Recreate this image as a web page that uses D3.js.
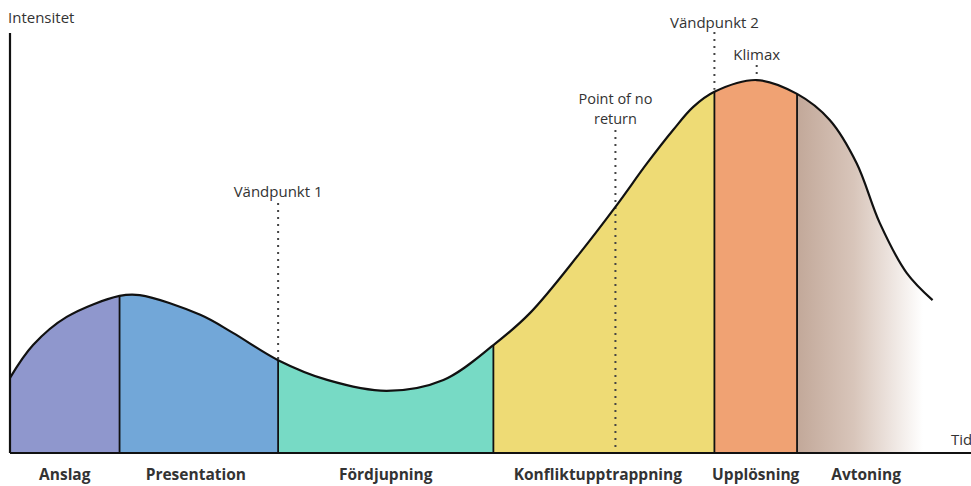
<!DOCTYPE html>
<html>
<head>
<meta charset="utf-8">
<script src="https://cdn.jsdelivr.net/npm/d3@7"></script>
<style>
  body { margin: 0; background: #fff; }
  text { font-family: "Open Sans", "Noto Sans", sans-serif; fill: #333; }
  .phase { font-weight: bold; font-size: 15.5px; }
  .note { font-size: 15px; }
  .note.multi { font-size: 14.5px; }
</style>
</head>
<body>
<div id="chart"></div>
<script>
// curve of intensity over time (time 0..100, intensity 0..100)
var curveTime      = [0, 2.4, 5.9, 11.4, 13.5, 19.8, 23.2, 27.9, 33.0, 39.2, 45.1, 50.3, 54.1, 59.3, 63.0, 66.3, 69.0, 71.1, 73.3, 77.7, 81.9, 85.3, 88.1, 90.5, 93.3, 96.0];
var curveIntensity = [17.9, 25.7, 32.4, 37.4, 37.6, 32.9, 28.6, 22.1, 17.4, 14.8, 17.4, 25.7, 33.3, 47.6, 58.6, 69.0, 76.9, 82.4, 86.0, 88.8, 85.5, 79.3, 69.0, 54.8, 42.9, 36.4];

var phaseNames = ["Anslag", "Presentation", "Fördjupning", "Konfliktupptrappning", "Upplösning", "Avtoning"];
var phaseStart = [0, 11.4, 27.9, 50.3, 73.3, 81.9];
var phaseEnd   = [11.4, 27.9, 50.3, 73.3, 81.9, 96.0];
var phaseColors = ["#8f97cd", "#72a7d8", "#77dac5", "#eedb75", "#f0a273", "url(#fade)"];

var noteLabels = [["Vändpunkt 1"], ["Point of no", "return"], ["Vändpunkt 2"], ["Klimax"]];
var noteTime   = [27.9, 63.0, 73.3, 77.7];

var width = 971, height = 486;
var margin = {top: 33, right: 0, bottom: 33, left: 10};

var svg = d3.select("#chart").append("svg")
    .attr("width", width)
    .attr("height", height);

var x = d3.scaleLinear().domain([0, 100]).range([margin.left, width - margin.right]);
var y = d3.scaleLinear().domain([0, 100]).range([height - margin.bottom, margin.top]);

var pts = curveTime.map(function(t, i) { return [t, curveIntensity[i]]; });
var intensityAt = function(t) { return curveIntensity[curveTime.indexOf(t)]; };

var defs = svg.append("defs");
var grad = defs.append("linearGradient")
    .attr("id", "fade")
    .attr("gradientUnits", "userSpaceOnUse")
    .attr("x1", x(81.9)).attr("x2", x(95.0))
    .attr("y1", 0).attr("y2", 0);
grad.append("stop").attr("offset", "0%").attr("stop-color", "#c2a899");
grad.append("stop").attr("offset", "45%").attr("stop-color", "#d8c5ba");
grad.append("stop").attr("offset", "100%").attr("stop-color", "#ffffff");

phaseNames.forEach(function(n, i) {
  defs.append("clipPath").attr("id", "clip" + i)
    .append("rect")
      .attr("x", x(phaseStart[i]))
      .attr("y", 0)
      .attr("width", x(phaseEnd[i]) - x(phaseStart[i]) + (i == phaseNames.length - 1 ? 2 : 0))
      .attr("height", height);
});

var curve = d3.curveCatmullRom.alpha(0.5);

var area = d3.area()
    .x(function(d) { return x(d[0]); })
    .y0(y(0))
    .y1(function(d) { return y(d[1]); })
    .curve(curve);

var line = d3.line()
    .x(function(d) { return x(d[0]); })
    .y(function(d) { return y(d[1]); })
    .curve(curve);

// coloured phases
svg.selectAll(".seg")
  .data(phaseNames)
  .enter().append("path")
    .attr("class", "seg")
    .attr("d", area(pts))
    .attr("clip-path", function(d, i) { return "url(#clip" + i + ")"; })
    .attr("fill", function(d, i) { return phaseColors[i]; });

// phase dividers
svg.selectAll(".divider")
  .data(phaseStart.slice(1))
  .enter().append("line")
    .attr("x1", function(d) { return x(d); })
    .attr("x2", function(d) { return x(d); })
    .attr("y1", y(0))
    .attr("y2", function(d) { return y(intensityAt(d)); })
    .attr("stroke", "#111")
    .attr("stroke-width", 1.8);

// dotted markers
var dotTop = [203, 130, 32, 65];
var dotBottom = [y(intensityAt(27.9)), y(0), y(intensityAt(73.3)) - 2, 76];
svg.selectAll(".dots")
  .data(noteTime)
  .enter().append("line")
    .attr("x1", function(d) { return x(d); })
    .attr("x2", function(d) { return x(d); })
    .attr("y1", function(d, i) { return dotTop[i]; })
    .attr("y2", function(d, i) { return dotBottom[i]; })
    .attr("stroke", "#444")
    .attr("stroke-width", 2)
    .attr("stroke-dasharray", "2,5");

// curve
svg.append("path")
    .attr("d", line(pts))
    .attr("fill", "none")
    .attr("stroke", "#111")
    .attr("stroke-width", 2.2);

// axes
svg.append("line")
    .attr("x1", x(0)).attr("x2", x(0))
    .attr("y1", y(100)).attr("y2", y(0))
    .attr("stroke", "#111").attr("stroke-width", 2.2);
svg.append("line")
    .attr("x1", x(0)).attr("x2", width)
    .attr("y1", y(0)).attr("y2", y(0))
    .attr("stroke", "#111").attr("stroke-width", 2.2);

svg.append("text").attr("class", "note")
    .attr("x", 8).attr("y", 23).text("Intensitet");
svg.append("text").attr("class", "note")
    .attr("x", 951).attr("y", 445).text("Tid");

// phase labels
svg.selectAll(".phase")
  .data(phaseNames)
  .enter().append("text")
    .attr("class", "phase")
    .attr("text-anchor", "middle")
    .attr("x", function(d, i) {
      var mid = (phaseStart[i] + phaseEnd[i]) / 2;
      if (i == 1) return x(mid) - 3;
      if (i == 3) return x(mid) - 6;
      return i == phaseNames.length - 1 ? x(phaseStart[i]) + 69 : x(mid);
    })
    .attr("y", 480)
    .text(function(d) { return d; });

// annotation labels, one text per line
var noteY = [197, 104, 28, 60];
noteLabels.forEach(function(lines, i) {
  lines.forEach(function(s, j) {
    svg.append("text")
        .attr("class", lines.length > 1 ? "note multi" : "note")
        .attr("text-anchor", "middle")
        .attr("x", x(noteTime[i]))
        .attr("y", noteY[i] + j * 20)
        .text(s);
  });
});
</script>
</body>
</html>
